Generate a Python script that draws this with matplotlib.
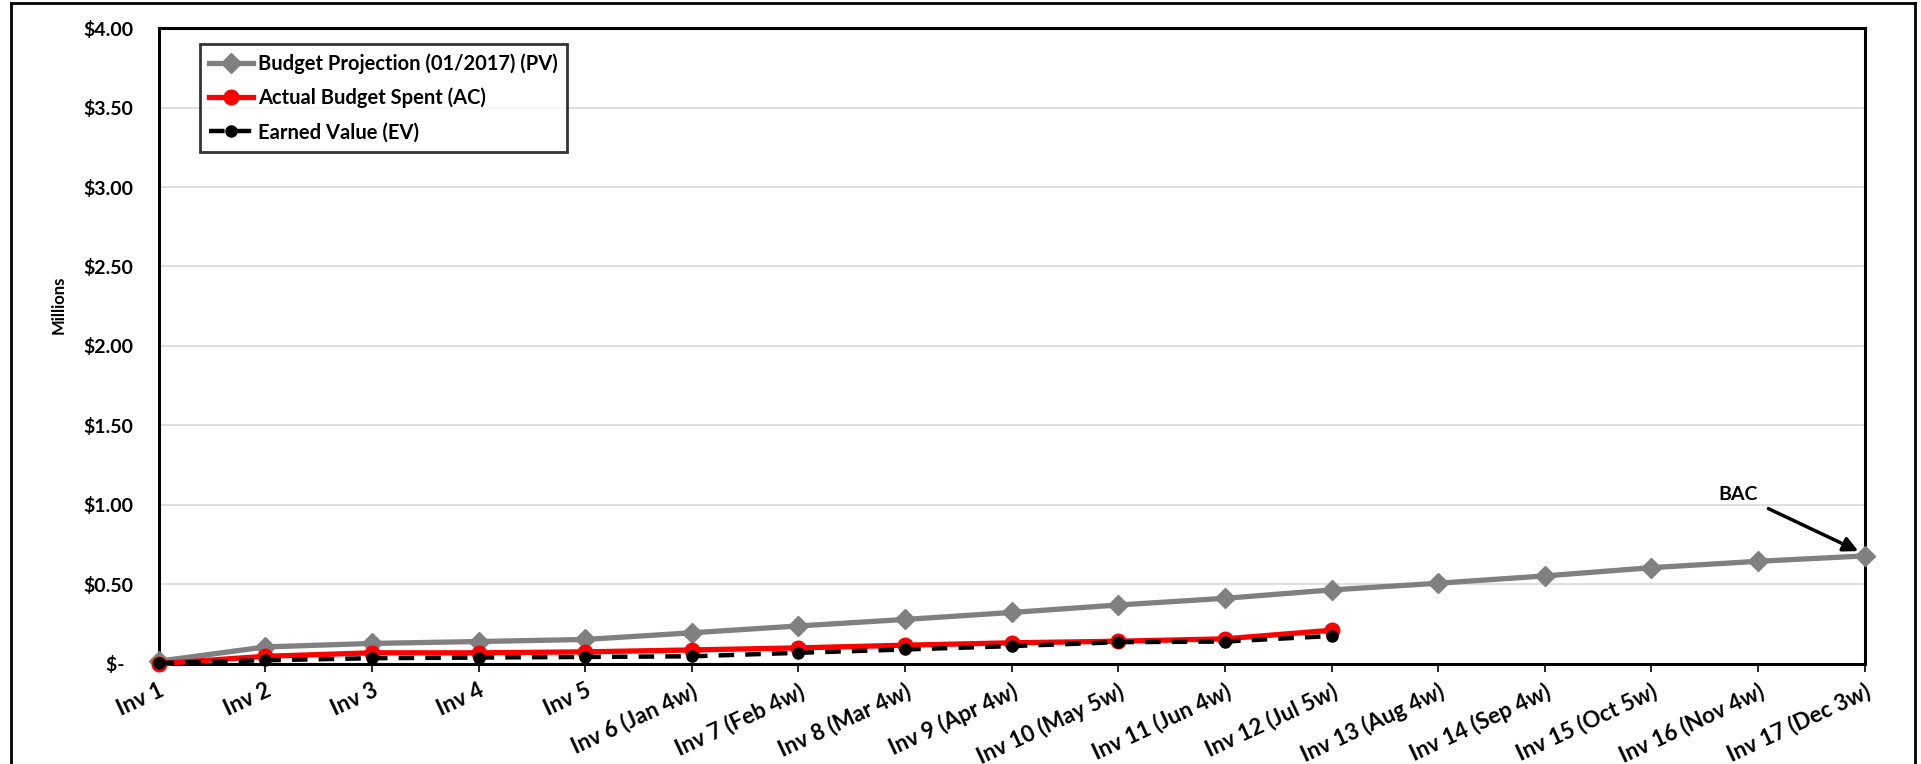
import matplotlib
matplotlib.use("Agg")
import matplotlib.pyplot as plt
from matplotlib.lines import Line2D
from matplotlib.ticker import FixedLocator, FuncFormatter

plt.rcParams['font.family'] = ['Lato', 'DejaVu Sans']
plt.rcParams['font.weight'] = 'bold'

invoices = ["Inv 1", "Inv 2", "Inv 3", "Inv 4", "Inv 5", "Inv 6 (Jan 4w)",
            "Inv 7 (Feb 4w)", "Inv 8 (Mar 4w)", "Inv 9 (Apr 4w)", "Inv 10 (May 5w)",
            "Inv 11 (Jun 4w)", "Inv 12 (Jul 5w)", "Inv 13 (Aug 4w)", "Inv 14 (Sep 4w)",
            "Inv 15 (Oct 5w)", "Inv 16 (Nov 4w)", "Inv 17 (Dec 3w)"]

# values in millions of dollars
planned_value = [0.015, 0.105, 0.127, 0.139, 0.152, 0.194, 0.237, 0.278, 0.322,
                 0.369, 0.411, 0.464, 0.506, 0.552, 0.604, 0.644, 0.678]
actual_cost = [0.0, 0.046, 0.068, 0.068, 0.074, 0.086, 0.099, 0.116, 0.131,
               0.141, 0.156, 0.210]
earned_value = [0.004, 0.021, 0.034, 0.038, 0.042, 0.046, 0.068, 0.089, 0.110,
                0.135, 0.139, 0.174]

y_ticks = [0.0, 0.5, 1.0, 1.5, 2.0, 2.5, 3.0, 3.5, 4.0]

fig = plt.figure(figsize=(19.21, 7.64), dpi=100)
ax = fig.add_axes([0.0826, 0.1314, 0.8881, 0.8317])

x_pv = list(range(len(planned_value)))
x_ac = list(range(len(actual_cost)))
x_ev = list(range(len(earned_value)))

ax.plot(x_pv, planned_value, color='#808080', lw=3.8, marker='D', markersize=10.5,
        markeredgecolor='#808080', label='Budget Projection (01/2017) (PV)', zorder=3,
        clip_on=False)
ax.plot(x_ac, actual_cost, color='#FF0000', lw=3.8, marker='o', markersize=10.5,
        label='Actual Budget Spent (AC)', zorder=4, clip_on=False)
ax.plot(x_ev, earned_value, color='black', lw=3.2, ls=(0, (3.5, 2.5)), marker='o',
        markersize=8, label='Earned Value (EV)', zorder=5, clip_on=False)

ax.set_xlim(0, len(invoices) - 1)
ax.set_ylim(0, 4.0)
ax.set_xticks(range(len(invoices)))
ax.set_xticklabels(invoices, rotation=25, ha='right', rotation_mode='anchor',
                   fontsize=16, fontweight='bold')
ax.yaxis.set_major_locator(FixedLocator(y_ticks))


def money(v, pos):
    if abs(v) < 1e-9:
        return "$-  "
    return f"${v:.2f}"


ax.yaxis.set_major_formatter(FuncFormatter(money))
for lbl in ax.get_yticklabels():
    lbl.set_fontweight('bold')
ax.tick_params(axis='y', length=0, pad=18, labelsize=14)
ax.tick_params(axis='x', length=6, width=1.2, direction='out', pad=6)

ax.grid(axis='y', color='#D9D9D9', lw=1.2)
ax.set_axisbelow(True)
for side in ['left', 'bottom', 'top', 'right']:
    ax.spines[side].set_linewidth(2.2)
    ax.spines[side].set_color('black')

ax.set_ylabel('Millions', fontsize=12, fontweight='bold')
ax.yaxis.set_label_coords(-0.054, 0.565)

leg = ax.legend(loc='upper left', bbox_to_anchor=(0.024, 0.975), fontsize=14.5,
                frameon=True, fancybox=False, edgecolor='black', handlelength=2.2,
                handletextpad=0.25, borderpad=0.45, labelspacing=0.7,
                borderaxespad=0)
leg.get_frame().set_linewidth(2)
for t in leg.get_texts():
    t.set_fontweight('bold')

bac_x = len(planned_value) - 1
bac_y = planned_value[-1]
ax.annotate('BAC', xy=(bac_x - 0.06, bac_y + 0.03), xytext=(15.0, 1.065),
            ha='right', va='center', fontsize=14, fontweight='bold',
            arrowprops=dict(arrowstyle='-|>', color='black', lw=2.5,
                            mutation_scale=22, shrinkA=6, shrinkB=0))

# outer frame around the chart area
frame_kw = dict(color='black', lw=2, transform=fig.transFigure)
fig.add_artist(Line2D([0.0055, 0.0055], [0.0, 0.996], **frame_kw))
fig.add_artist(Line2D([0.0055, 0.9968], [0.996, 0.996], **frame_kw))
fig.add_artist(Line2D([0.9968, 0.9968], [0.0, 0.996], **frame_kw))

fig.savefig('out.png', dpi=100)
